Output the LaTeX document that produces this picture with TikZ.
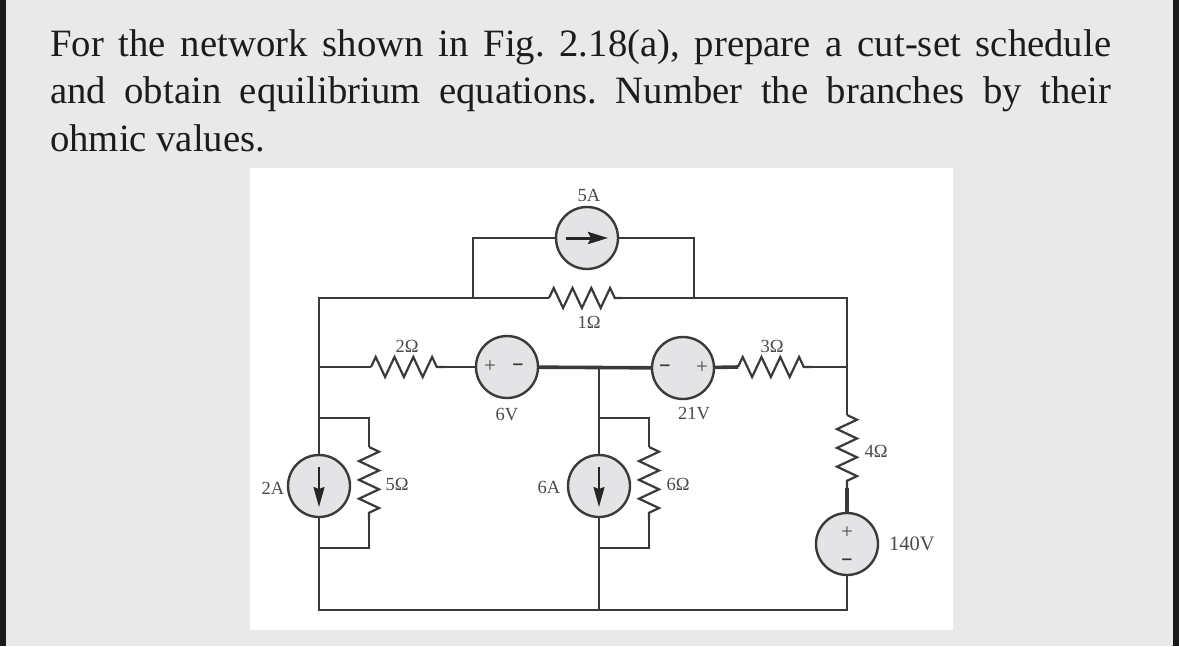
\documentclass[tikz,border=0pt]{standalone}
\usepackage{fontspec}
\setmainfont{Liberation Serif}
\newfontfamily\signfont{DejaVu Sans}
\usetikzlibrary{arrows.meta,decorations.pathmorphing}
\definecolor{pagegray}{HTML}{E9E9E9}
\definecolor{edgeblack}{HTML}{1A1A1A}
\definecolor{srcgray}{HTML}{E4E4E6}
\definecolor{wirecolor}{HTML}{3A3A3A}
\definecolor{labelcolor}{HTML}{4A4A4A}
\definecolor{textcolor}{HTML}{1C1C1C}

\tikzset{
  wire/.style={draw=wirecolor,line width=2.5pt},
  thickwire/.style={draw=wirecolor,line width=3.6pt},
  resistor/.style={draw=wirecolor,line width=2.2pt,decorate,
    decoration={zigzag,segment length=18.8pt,amplitude=10pt,pre length=0pt,post length=0pt}},
  source/.style={circle,draw=wirecolor,line width=2.4pt,fill=srcgray,minimum size=62pt,inner sep=0pt},
  srcarrow/.style={draw=black!85,line width=2pt,-{Stealth[length=20pt,width=11pt,inset=2pt]}},
  boldarrow/.style={draw=black!85,line width=3pt,-{Stealth[length=20pt,width=12pt,inset=3pt]}},
  val/.style={text=labelcolor,font=\fontsize{18.5}{20}\selectfont,inner sep=0pt},
  plussign/.style={text=labelcolor,font=\fontsize{21}{21}\selectfont,inner sep=0pt},
  minussign/.style={text=wirecolor,font=\signfont\bfseries\fontsize{15}{15}\selectfont,inner sep=0pt},
  problem/.style={text=textcolor,font=\fontsize{38.7}{47.5}\selectfont\frenchspacing,anchor=north west,inner sep=0pt,
    text width=1061pt,align=justify}
}

\begin{document}
\begin{tikzpicture}[x=1pt,y=-1pt]
\useasboundingbox (0,0) rectangle (1179,646);
\fill[pagegray] (0,0) rectangle (1179,646);
\fill[edgeblack] (0,0) rectangle (6,646);
\fill[edgeblack] (1173,0) rectangle (1179,646);
\fill[white] (250,168) rectangle (953,630);

\node[problem] (question) at (50,29) {For the network shown in Fig. 2.18(a), prepare a cut-set schedule\linebreak and obtain equilibrium equations. Number the branches by their\linebreak ohmic values.};

% sources
\node[source] (isrcfive) at (587,238) {};
\node[source] (isrctwo) at (319,486) {};
\node[source] (isrcsix) at (599,486) {};
\node[source] (vsrcsix) at (507,367) {};
\node[source] (vsrctwentyone) at (683,368) {};
\node[source] (vsrcforty) at (847,544) {};

% junctions
\coordinate (topleft) at (319,298);
\coordinate (topright) at (847,298);
\coordinate (botleft) at (319,610);
\coordinate (botmid) at (599,610);
\coordinate (botright) at (847,610);
\coordinate (midleft) at (319,367);
\coordinate (midcentre) at (599,367);
\coordinate (midright) at (847,367);
\coordinate (fivealeft) at (473,298);
\coordinate (fivearight) at (694,298);
\coordinate (fivealeftup) at (473,238);
\coordinate (fivearightup) at (694,238);
\coordinate (twotop) at (319,418);
\coordinate (twobot) at (319,548);
\coordinate (twotopr) at (369,418);
\coordinate (twobotr) at (369,548);
\coordinate (sixtop) at (599,418);
\coordinate (sixbot) at (599,548);
\coordinate (sixtopr) at (649,418);
\coordinate (sixbotr) at (649,548);

% resistor ends
\coordinate (ronea) at (549,298);
\coordinate (roneb) at (622,298);
\coordinate (rtwoa) at (371,367);
\coordinate (rtwob) at (445,367);
\coordinate (rthreea) at (738,367);
\coordinate (rthreeb) at (812,367);
\coordinate (rfoura) at (847,415);
\coordinate (rfourb) at (847,488);
\coordinate (rfivea) at (369,447);
\coordinate (rfiveb) at (369,520);
\coordinate (rsixa) at (649,447);
\coordinate (rsixb) at (649,520);

% resistors
\draw[resistor] (ronea) -- (roneb);
\draw[resistor] (rtwoa) -- (rtwob);
\draw[resistor] (rthreea) -- (rthreeb);
\draw[resistor] (rfoura) -- (rfourb);
\draw[resistor] (rfivea) -- (rfiveb);
\draw[resistor] (rsixa) -- (rsixb);

% wires
\draw[wire] (midleft) -- (topleft) -- (ronea);
\draw[wire] (roneb) -- (topright) -- (midright);
\draw[wire] (fivealeft) -- (fivealeftup) -- (isrcfive);
\draw[wire] (isrcfive) -- (fivearightup) -- (fivearight);
\draw[wire] (midleft) -- (rtwoa);
\draw[wire] (rtwob) -- (vsrcsix);
\draw[thickwire] (vsrcsix) -- (vsrctwentyone);
\draw[thickwire] (vsrctwentyone) -- (rthreea);
\draw[wire] (rthreeb) -- (midright);
\draw[wire] (midleft) -- (isrctwo);
\draw[wire] (isrctwo) -- (botleft) -- (botright) -- (vsrcforty);
\draw[wire] (midcentre) -- (isrcsix);
\draw[wire] (isrcsix) -- (botmid);
\draw[wire] (twotop) -- (twotopr) -- (rfivea);
\draw[wire] (rfiveb) -- (twobotr) -- (twobot);
\draw[wire] (sixtop) -- (sixtopr) -- (rsixa);
\draw[wire] (rsixb) -- (sixbotr) -- (sixbot);
\draw[wire] (midright) -- (rfoura);
\draw[thickwire] (rfourb) -- (vsrcforty);

% current arrows
\draw[boldarrow] ([xshift=-21pt]isrcfive.center) -- ([xshift=21pt]isrcfive.center);
\draw[srcarrow] ([yshift=19pt]isrctwo.center) -- ([yshift=-21pt]isrctwo.center);
\draw[srcarrow] ([yshift=19pt]isrcsix.center) -- ([yshift=-21pt]isrcsix.center);

% polarity
\node[plussign] (plussix) at (490,367) {+};
\node[minussign] (minussix) at (518,367) {−};
\node[minussign] (minustwentyone) at (665,368) {−};
\node[plussign] (plustwentyone) at (702,368) {+};
\node[plussign] (plusforty) at (847,533) {+};
\node[minussign] (minusforty) at (847,562) {−};

% values
\node[val] (lblfivea) at (589,195) {5A};
\node[val] (lblone) at (589,322) {1Ω};
\node[val] (lbltwo) at (407,346) {2Ω};
\node[val] (lblsixv) at (507,415) {6V};
\node[val] (lbltwentyone) at (694,414) {21V};
\node[val] (lblthree) at (772,346) {3Ω};
\node[val] (lblfour) at (876,451) {4Ω};
\node[val] (lblfive) at (397,484) {5Ω};
\node[val] (lblsix) at (678,484) {6Ω};
\node[val] (lbltwoa) at (273,488) {2A};
\node[val] (lblsixa) at (549,487) {6A};
\node[val,font=\fontsize{20.5}{22}\selectfont] (lblforty) at (912,544) {140V};
\end{tikzpicture}
\end{document}
